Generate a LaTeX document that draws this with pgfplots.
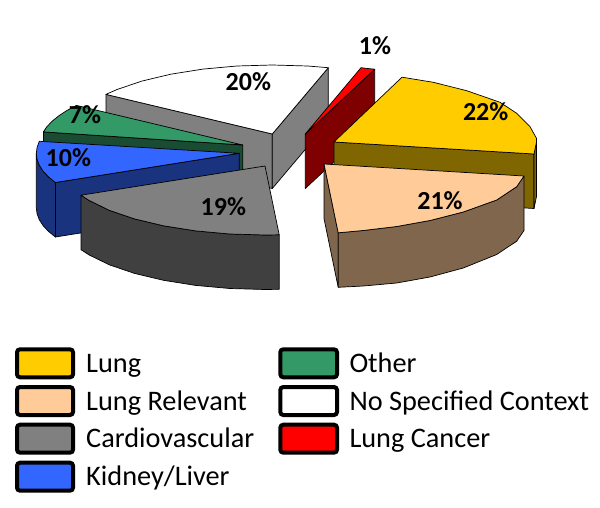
\documentclass[border=0pt]{standalone}
\usepackage{pgfplots}
\pgfplotsset{compat=1.18}
\usepackage{fontspec}
\setmainfont{Carlito}
\definecolor{cyel}{HTML}{FFCC00}\definecolor{cyeld}{HTML}{7F6600}
\definecolor{cpea}{HTML}{FFCC99}\definecolor{cpead}{HTML}{7F664C}
\definecolor{cgry}{HTML}{808080}\definecolor{cgryd}{HTML}{404040}
\definecolor{cblu}{HTML}{3366FF}\definecolor{cblud}{HTML}{19337F}
\definecolor{cgrn}{HTML}{339966}\definecolor{cgrnd}{HTML}{194C33}
\definecolor{cred}{HTML}{FF0000}\definecolor{credd}{HTML}{7F0000}
\tikzset{pl/.style={font=\fontsize{26}{28}\selectfont\bfseries,anchor=base,inner sep=0pt,text=black},
 lt/.style={font=\fontsize{28.3}{30}\selectfont,anchor=base west,inner sep=0pt,text=black},
 sw/.style={draw=black,line width=4pt,rounded corners=3pt}}
\begin{document}
\begin{tikzpicture}[x=1pt,y=1pt]
\path (0,0) rectangle (600,508);
\begin{axis}[at={(0,0)},anchor=south west,scale only axis,width=600pt,height=508pt,
 xmin=0,xmax=600,ymin=0,ymax=508,y dir=reverse,hide axis,clip=false,
 every axis plot/.append style={draw=black,line width=0.7pt,line join=round,mark=none}]
% No Specified Context
\addplot[fill=cgry] coordinates {(106,94.4)(272.3,134)(272.3,188.5)(106,148.9)} --cycle;
\addplot[fill=cgry] coordinates {(272.3,134)(328.3,67.7)(328.3,122.2)(272.3,188.5)} --cycle;
\addplot[fill=white] coordinates {(272.3,134)(328.3,67.7)(307.6,66)(272.3,65)(237,66)(202.9,69.1)(170.8,74.2)(141.8,81.1)(116.8,89.6)(106,94.4)} --cycle;
% Other
\addplot[fill=cgrnd] coordinates {(43.4,131.9)(242.7,145)(242.7,199.5)(43.4,186.4)} --cycle;
\addplot[fill=cgrn] coordinates {(242.7,145)(76.4,105.4)(66.9,110.5)(58.8,115.8)(51.9,121.4)(46.6,127.1)(43.4,131.9)} --cycle;
% Kidney/Liver
\addplot[fill=cblud] coordinates {(239.3,153.3)(239.3,207.8)(55.4,237)(55.4,182.5)} --cycle;
\addplot[fill=cblud] coordinates {(36.3,153.3)(37.1,159.3)(39.3,165.3)(43.2,171.2)(48.5,176.9)(55.4,182.5)(55.4,237)(48.5,231.4)(43.2,225.7)(39.3,219.8)(37.1,213.8)(36.3,207.8)} --cycle;
\addplot[fill=cblu] coordinates {(239.3,153.3)(39.3,141.3)(37.1,147.3)(36.3,153.3)(37.1,159.3)(39.3,165.3)(43.2,171.2)(48.5,176.9)(55.4,182.5)} --cycle;
% Lung Cancer
\addplot[fill=credd] coordinates {(305.3,134)(374.7,69.2)(374.7,123.7)(305.3,188.5)} --cycle;
\addplot[fill=cred] coordinates {(305.3,134)(361,67.7)(367.5,68.5)(374.7,69.2)} --cycle;
% Lung
\addplot[fill=cyeld] coordinates {(334,142)(534,154)(534,208.5)(334,196.5)} --cycle;
\addplot[fill=cyeld] coordinates {(536.5,140)(534,154)(534,208.5)(536.5,196.5)} --cycle;
\addplot[fill=cyel] coordinates {(334,142)(402,77.2)(433.3,82.3)(466.7,90.7)(500,102.3)(516.7,113.3)(530,126.7)(536.5,138.3)(536.5,142)(534,154)} --cycle;
% Lung Relevant
\addplot[fill=cpead] coordinates {(324,164)(338.2,232.8)(338.2,287.3)(324,218.5)} --cycle;
\addplot[fill=cpead] coordinates {(338.2,232.8)(363.3,230.5)(396.7,226.5)(430,220.5)(463.3,212)(496.7,200)(516.7,186.7)(524,176)(524,230.5)(516.7,241.2)(496.7,254.5)(463.3,268)(430,277)(396.7,283)(363.3,286)(338.2,287.3)} --cycle;
\addplot[fill=cpea] coordinates {(324,164)(524,176)(516.7,186.7)(496.7,200)(463.3,212)(430,220.5)(396.7,226.5)(363.3,230.5)(338.2,232.8)} --cycle;
% Cardiovascular
\addplot[fill=cgryd] coordinates {(81,195.2)(89.2,200.5)(109.5,210.4)(134.5,218.9)(163.5,225.8)(195.6,230.9)(229.7,234)(265,235)(279.2,234.8)(279.2,289.3)(265,289.5)(229.7,288.5)(195.6,285.4)(163.5,280.3)(134.5,273.4)(109.5,264.9)(89.2,255)(81,249.7)} --cycle;
\addplot[fill=cgry] coordinates {(265,166)(279.2,234.8)(265,235)(229.7,234)(195.6,230.9)(163.5,225.8)(134.5,218.9)(109.5,210.4)(89.2,200.5)(81,195.2)} --cycle;
% percentage labels
\node[pl] at (axis cs:375,55) {1\%};
\node[pl] at (axis cs:485.7,120.7) {22\%};
\node[pl] at (axis cs:440,210) {21\%};
\node[pl] at (axis cs:248.3,90.7) {20\%};
\node[pl] at (axis cs:85,124) {7\%};
\node[pl] at (axis cs:68.3,167) {10\%};
\node[pl] at (axis cs:223.3,215.7) {19\%};
% legend
\draw[sw,fill=cyel] (axis cs:17,349.3) rectangle (axis cs:73,377.3);
\draw[sw,fill=cpea] (axis cs:17,387) rectangle (axis cs:73,415);
\draw[sw,fill=cgry] (axis cs:17,424.7) rectangle (axis cs:73,452.7);
\draw[sw,fill=cblu] (axis cs:17,462.7) rectangle (axis cs:73,490.7);
\draw[sw,fill=cgrn] (axis cs:280.3,349.3) rectangle (axis cs:337,377.3);
\draw[sw,fill=white] (axis cs:280.3,387) rectangle (axis cs:337,415);
\draw[sw,fill=cred] (axis cs:280.3,424.7) rectangle (axis cs:337,452.7);
\node[lt] at (axis cs:86,372.3) {Lung};
\node[lt] at (axis cs:86,410) {Lung Relevant};
\node[lt] at (axis cs:86,447) {Cardiovascular};
\node[lt] at (axis cs:86,485) {Kidney/Liver};
\node[lt] at (axis cs:349.3,372.3) {Other};
\node[lt] at (axis cs:349.3,410) {No Specified Context};
\node[lt] at (axis cs:349.3,447) {Lung Cancer};
\end{axis}
\end{tikzpicture}
\end{document}
